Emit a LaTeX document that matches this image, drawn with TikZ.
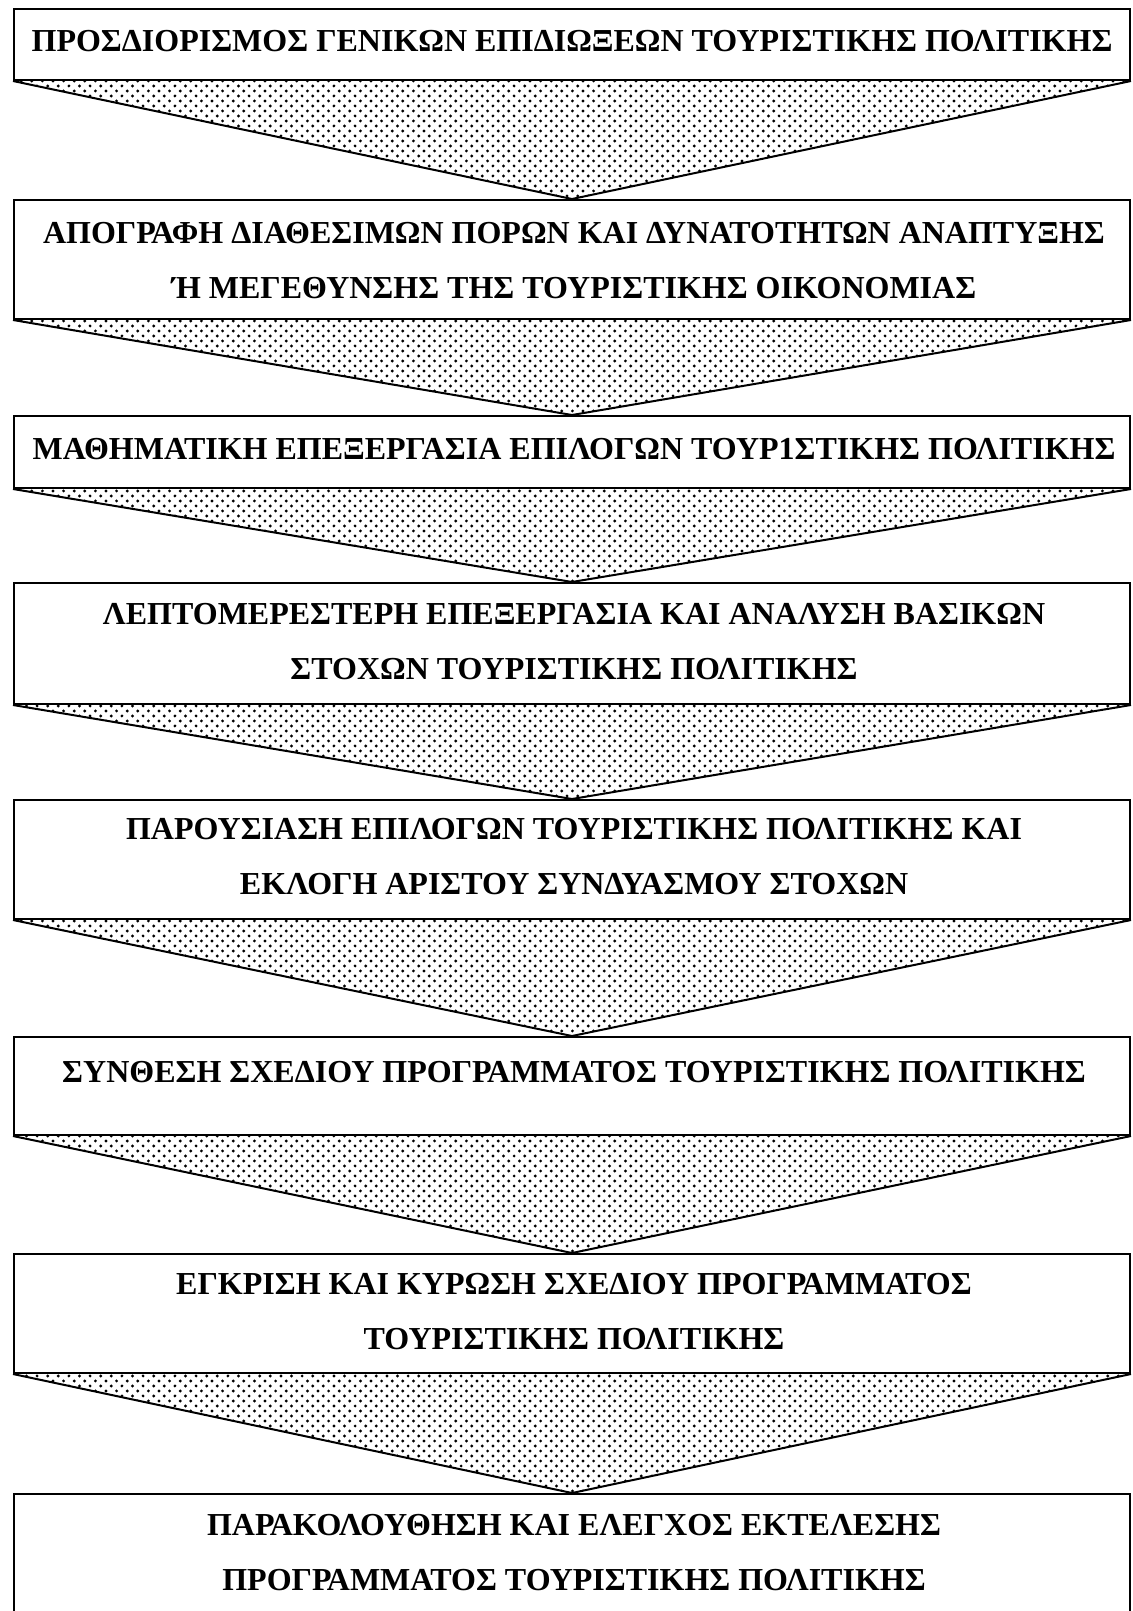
\documentclass[tikz,border=0pt]{standalone}
\usepackage{fontspec}
\setmainfont{Liberation Serif}
\usetikzlibrary{patterns}
\pgfdeclarepatternformonly{refdots}{\pgfqpoint{-0.9pt}{-0.9pt}}{\pgfqpoint{3.6pt}{3.4pt}}{\pgfqpoint{5.3pt}{5pt}}{%
 \pgfpathcircle{\pgfqpoint{0pt}{0pt}}{0.8pt}%
 \pgfpathcircle{\pgfqpoint{2.65pt}{2.5pt}}{0.8pt}%
 \pgfusepath{fill}}
\tikzset{
 box/.style={draw, line width=1pt, rectangle, inner sep=0pt, minimum width=558pt},
 lbl/.style={font=\fontsize{16}{27.5}\selectfont\bfseries, align=center, inner sep=0pt},
 trifill/.style={pattern=refdots},
 triline/.style={draw, line width=1pt, line join=miter}
}
\begin{document}
\begin{tikzpicture}[x=0.5pt,y=-0.5pt]
\useasboundingbox (0,0) rectangle (1132,1611);
\clip (0,0) rectangle (1132,1611);
\node[box, minimum height=35.5pt] (b1) at (572,44.5) {};
\node[box, minimum height=59.5pt] (b2) at (572,259.5) {};
\node[box, minimum height=36pt]   (b3) at (572,452) {};
\node[box, minimum height=60.5pt] (b4) at (572,643.5) {};
\node[box, minimum height=59.5pt] (b5) at (572,859.5) {};
\node[box, minimum height=49pt]   (b6) at (572,1086) {};
\node[box, minimum height=59.5pt] (b7) at (572,1313.5) {};
\node[box, minimum height=83pt]   (b8) at (572,1577) {};
\foreach \a/\b in {b1/b2,b2/b3,b3/b4,b4/b5,b5/b6,b6/b7,b7/b8}{
  \path[trifill] (\a.south west) -- (\a.south east) -- (\b.north) -- cycle;
  \draw[triline] (\a.south west) -- (\b.north) -- (\a.south east);
}
\node[lbl] (t1) at (572,41) {ΠΡΟΣΔΙΟΡΙΣΜΟΣ ΓΕΝΙΚΩΝ ΕΠΙΔΙΩΞΕΩΝ ΤΟΥΡΙΣΤΙΚΗΣ ΠΟΛΙΤΙΚΗΣ};
\node[lbl] (t2) at (574,260.5) {ΑΠΟΓΡΑΦΗ ΔΙΑΘΕΣΙΜΩΝ ΠΟΡΩΝ ΚΑΙ ΔΥΝΑΤΟΤΗΤΩΝ ΑΝΑΠΤΥΞΗΣ\\Ή ΜΕΓΕΘΥΝΣΗΣ ΤΗΣ ΤΟΥΡΙΣΤΙΚΗΣ ΟΙΚΟΝΟΜΙΑΣ};
\node[lbl] (t3) at (574,449) {ΜΑΘΗΜΑΤΙΚΗ ΕΠΕΞΕΡΓΑΣΙΑ ΕΠΙΛΟΓΩΝ ΤΟΥΡ1ΣΤΙΚΗΣ ΠΟΛΙΤΙΚΗΣ};
\node[lbl] (t4) at (574,642) {ΛΕΠΤΟΜΕΡΕΣΤΕΡΗ ΕΠΕΞΕΡΓΑΣΙΑ ΚΑΙ ΑΝΑΛΥΣΗ ΒΑΣΙΚΩΝ\\ΣΤΟΧΩΝ ΤΟΥΡΙΣΤΙΚΗΣ ΠΟΛΙΤΙΚΗΣ};
\node[lbl] (t5) at (574,856.5) {ΠΑΡΟΥΣΙΑΣΗ ΕΠΙΛΟΓΩΝ ΤΟΥΡΙΣΤΙΚΗΣ ΠΟΛΙΤΙΚΗΣ ΚΑΙ\\ΕΚΛΟΓΗ ΑΡΙΣΤΟΥ ΣΥΝΔΥΑΣΜΟΥ ΣΤΟΧΩΝ};
\node[lbl] (t6) at (574,1072) {ΣΥΝΘΕΣΗ ΣΧΕΔΙΟΥ ΠΡΟΓΡΑΜΜΑΤΟΣ ΤΟΥΡΙΣΤΙΚΗΣ ΠΟΛΙΤΙΚΗΣ};
\node[lbl] (t7) at (574,1311.5) {ΕΓΚΡΙΣΗ ΚΑΙ ΚΥΡΩΣΗ ΣΧΕΔΙΟΥ ΠΡΟΓΡΑΜΜΑΤΟΣ\\ΤΟΥΡΙΣΤΙΚΗΣ ΠΟΛΙΤΙΚΗΣ};
\node[lbl] (t8) at (574,1553) {ΠΑΡΑΚΟΛΟΥΘΗΣΗ ΚΑΙ ΕΛΕΓΧΟΣ ΕΚΤΕΛΕΣΗΣ\\ΠΡΟΓΡΑΜΜΑΤΟΣ ΤΟΥΡΙΣΤΙΚΗΣ ΠΟΛΙΤΙΚΗΣ};
\end{tikzpicture}
\end{document}
